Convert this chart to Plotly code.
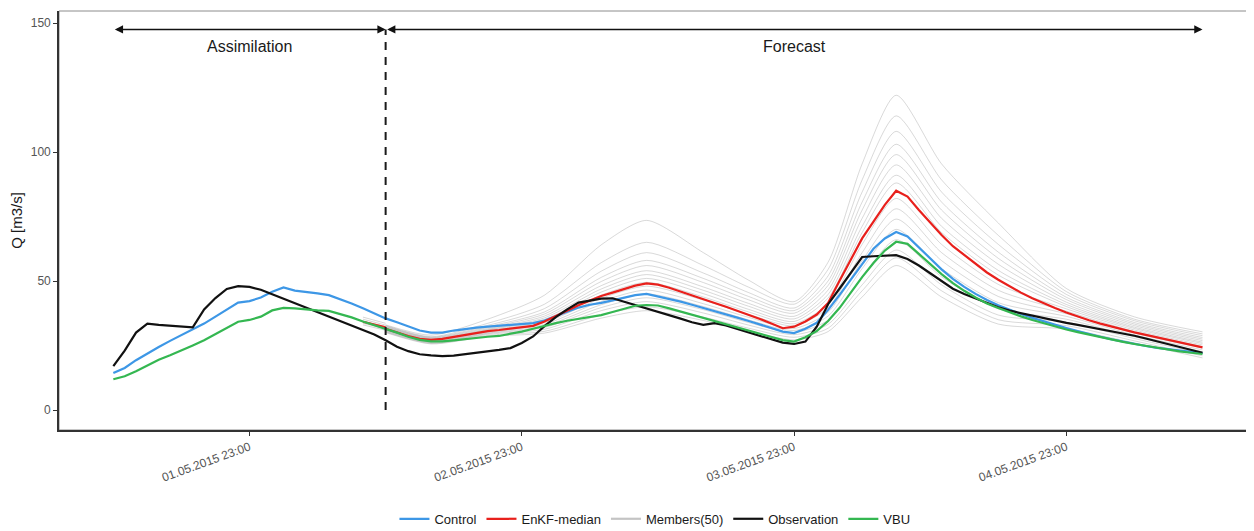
import pandas as pd
import plotly.graph_objects as go

start = pd.Timestamp("2015-05-01 11:00")

# hourly series, t = 0..96 h from 01.05.2015 11:00
observation = [17, 23, 30, 33.5, 33, 32.7, 32.3, 32, 39, 43.4,
               46.9, 48, 47.7, 46.6, 44.9, 43.2, 41.5, 39.8, 38, 36.3,
               34.6, 32.9, 31.1, 29.3, 27, 24.5, 22.8, 21.6, 21.2, 20.9,
               21.1, 21.6, 22.2, 22.8, 23.3, 24, 26, 28.5, 32.5, 36,
               39, 41.6, 42.5, 43.2, 43.3, 42, 40.7, 39.5, 38.2, 36.8,
               35.4, 34, 33, 33.7, 32.8, 31.4, 30.1, 28.8, 27.4, 26.1,
               25.6, 26.5, 32.3, 41, 47, 53, 59.3, 59.6, 59.8, 60,
               58.5, 56, 53, 50, 47, 45, 43.2, 41.5, 39.8, 38.5,
               37.5, 36.5, 35.6, 34.7, 33.8, 33, 32.2, 31.4, 30.6, 29.8,
               28.8, 27.7, 26.6, 25.5, 24.3, 23.2, 22.2]

control = [14.3, 16.3, 19.3, 22, 24.4, 26.8, 29, 31.3, 33.5, 36.2,
           39, 41.6, 42.2, 43.6, 45.8, 47.5, 46.3, 45.8, 45.2, 44.5,
           43, 41.3, 39.4, 37.5, 35.5, 34, 32.3, 30.8, 30, 30,
           30.8, 31.4, 31.9, 32.3, 32.6, 33, 33.3, 33.7, 34.7, 36.3,
           38, 39.7, 40.8, 41.5, 42.5, 43.5, 44.5, 45, 44, 43.2,
           42, 40.8, 39.6, 38.4, 37.1, 35.8, 34.5, 33.2, 31.9, 30.4,
           29.8, 31.5, 33.8, 38.8, 44.5, 50.5, 56.8, 62.5, 66.5, 69,
           67.3, 63, 58.5, 54.5, 50.8, 47.7, 45, 42.6, 40.6, 38.8,
           37.2, 35.7, 34.3, 33, 31.8, 30.6, 29.4, 28.4, 27.4, 26.5,
           25.5, 24.8, 24.1, 23.5, 22.9, 22.5, 22.1]

vbu = [11.9, 13.1, 15, 17.2, 19.5, 21.2, 23, 25, 27, 29.3,
       31.8, 34.2, 34.9, 36.2, 38.6, 39.6, 39.4, 38.9, 38.6, 38.4,
       37.3, 35.9, 34.3, 32.9, 31.7, 30, 28.4, 27.2, 26.6, 26.6,
       27, 27.5, 28, 28.4, 28.7, 29.5, 30.4, 31.5, 32.7, 33.7,
       34.6, 35.4, 36.1, 36.8, 38, 39.3, 40.4, 40.7, 40.5, 39.4,
       38.2, 37, 35.8, 34.6, 33.4, 32.2, 31, 29.7, 28.4, 27.1,
       26.5, 28.2, 30.6, 34.5, 39.5, 45.5, 51.5, 57, 61.8, 65.2,
       64.4, 60.5, 56.5, 52.7, 49.2, 46.2, 43.6, 41.3, 39.5, 37.8,
       36.3, 34.9, 33.6, 32.3, 31.2, 30.2, 29.2, 28.2, 27.3, 26.4,
       25.6, 24.8, 24.1, 23.4, 22.7, 22.2, 21.7]

# EnKF median: short piece at the end of assimilation (t=22..24) and forecast (t=24..96)
enkf_assim_hours = [22, 23, 24]
enkf_assim = [34.2, 33.1, 32.0]
enkf_forecast = [31.5, 30, 28.7, 27.6, 27.2, 27.6, 28.3, 29, 29.8, 30.6,
                 31, 31.5, 32, 32.6, 34.3, 36.4, 38.6, 40.6, 42.4, 44.2,
                 45.5, 46.8, 48.2, 49.1, 48.6, 47.4, 46, 44.5, 43, 41.5,
                 40, 38.5, 37, 35.3, 33.5, 31.7, 32.3, 34.3, 37, 41.5,
                 50, 58.5, 66.5, 73, 79.5, 85, 82.7, 77.5, 72.5, 67.8,
                 63.5, 60, 56.5, 53.3, 50.5, 47.9, 45.5, 43.3, 41.3, 39.5,
                 37.8, 36.2, 34.8, 33.5, 32.3, 31.2, 30.1, 29.1, 28.1, 27.1,
                 26.1, 25.2, 24.3]

# ensemble members (read at key hours)
member_hours = [24, 28, 33, 38, 43, 47, 52, 56, 60, 63, 66, 69, 73, 78, 84, 90, 96]
members = [
    [33.0, 29.0, 35.2, 44.5, 64.0, 73.5, 61.0, 50.3, 42.0, 57.3, 95.4, 122, 95.4, 72.5, 47.1, 36.1, 30.3],
    [32.8, 28.4, 33.6, 41.0, 57.1, 65.0, 56.0, 47.6, 41.0, 54.5, 89.2, 114, 89.2, 67.7, 45.9, 35.2, 29.5],
    [32.6, 28.2, 32.8, 39.3, 53.8, 61.0, 53.1, 45.5, 39.5, 52.0, 84.5, 108, 84.5, 64.2, 44.8, 34.6, 28.8],
    [32.4, 28.0, 32.3, 38.0, 51.4, 58.0, 51.0, 44.0, 38.5, 50.0, 80.6, 103, 80.6, 61.2, 43.7, 33.9, 28.1],
    [32.2, 27.8, 31.9, 37.2, 49.8, 56.0, 49.4, 42.7, 37.5, 48.3, 77.5, 99, 77.5, 58.8, 42.8, 33.3, 27.5],
    [32.0, 27.6, 31.5, 36.4, 48.2, 54.0, 47.7, 41.3, 36.3, 46.5, 74.3, 95, 74.3, 56.5, 41.8, 32.7, 26.9],
    [31.8, 27.4, 31.2, 35.7, 46.9, 52.5, 46.4, 40.2, 35.3, 44.8, 71.2, 91, 71.2, 54.1, 40.9, 32.1, 26.3],
    [31.6, 27.2, 31.0, 35.1, 45.7, 51.0, 45.1, 39.0, 34.3, 43.4, 68.8, 88, 68.8, 52.3, 40.1, 31.6, 25.8],
    [31.4, 27.0, 30.7, 34.5, 44.5, 49.5, 43.8, 38.0, 33.4, 41.2, 64.2, 82, 64.2, 48.7, 39.2, 31.0, 25.2],
    [31.2, 26.8, 30.4, 33.9, 43.3, 48.0, 42.6, 37.0, 32.6, 39.6, 61.0, 78, 61.0, 46.4, 38.3, 30.4, 24.6],
    [31.0, 26.6, 30.1, 33.2, 42.1, 46.5, 41.2, 35.9, 31.6, 37.9, 57.9, 74, 57.9, 44.0, 37.3, 29.8, 24.0],
    [30.8, 26.4, 29.8, 32.6, 40.8, 45.0, 40.1, 34.9, 30.8, 36.4, 54.8, 70, 54.8, 41.6, 36.3, 29.1, 23.3],
    [30.6, 26.2, 29.6, 32.0, 39.7, 43.5, 38.9, 33.9, 30.0, 34.8, 51.6, 66, 51.6, 39.2, 35.2, 28.4, 22.6],
    [30.4, 26.0, 29.3, 31.3, 38.5, 42.0, 37.6, 32.9, 29.2, 33.2, 48.5, 62, 48.5, 36.8, 34.1, 27.7, 21.9],
    [30.2, 25.8, 28.9, 30.5, 36.9, 40.0, 36.0, 31.7, 28.2, 31.7, 46.2, 59, 46.2, 35.0, 32.7, 26.8, 21.0],
    [30.0, 25.6, 28.6, 29.8, 35.6, 38.5, 34.7, 30.5, 27.2, 30.4, 43.8, 56, 43.8, 33.3, 31.4, 26.0, 20.2],
]
members_assim = [
    [36.0, 34.8, 33.6],
    [35.2, 34.0, 32.9],
    [34.5, 33.4, 32.3],
    [33.6, 32.5, 31.5],
    [33.0, 31.9, 30.9],
]

tick_labels = ["01.05.2015 23:00", "02.05.2015 23:00", "03.05.2015 23:00", "04.05.2015 23:00"]
tick_hours = [12, 36, 60, 84]
phase_labels = ["Assimilation", "Forecast"]
phase_bounds = [(0, 24), (24, 96)]
arrow_level = 147.5
label_level = 141

def t(h):
    return start + pd.Timedelta(hours=h)

hours_all = list(range(len(observation)))
x_all = [t(h) for h in hours_all]
x_fc = [t(h) for h in range(24, 24 + len(enkf_forecast))]

C_BLUE = "#3d97e6"
C_RED = "#e8201c"
C_GREY = "#c4c4c4"
C_BLACK = "#111111"
C_GREEN = "#34b751"

fig = go.Figure()

# members
for row in members:
    fig.add_trace(go.Scatter(x=[t(h) for h in member_hours], y=row, mode="lines",
                             line=dict(color="rgba(160,160,160,0.5)", width=0.8,
                                       shape="spline", smoothing=0.7),
                             showlegend=False, hoverinfo="skip"))
for row in members_assim:
    fig.add_trace(go.Scatter(x=[t(h) for h in enkf_assim_hours], y=row, mode="lines",
                             line=dict(color="rgba(160,160,160,0.55)", width=0.8),
                             showlegend=False, hoverinfo="skip"))

fig.add_trace(go.Scatter(x=x_all, y=control, mode="lines", name="Control",
                         line=dict(color=C_BLUE, width=2.2)))
fig.add_trace(go.Scatter(x=x_fc, y=enkf_forecast, mode="lines", name="EnKF-median",
                         legendgroup="enkf", line=dict(color=C_RED, width=2.2)))
fig.add_trace(go.Scatter(x=[t(h) for h in enkf_assim_hours], y=enkf_assim, mode="lines",
                         legendgroup="enkf", showlegend=False, line=dict(color=C_RED, width=2.2)))
# legend entry for members
fig.add_trace(go.Scatter(x=[None], y=[None], mode="lines", name="Members(50)",
                         line=dict(color=C_GREY, width=2.2)))
fig.add_trace(go.Scatter(x=x_all, y=observation, mode="lines", name="Observation",
                         line=dict(color=C_BLACK, width=2.2)))
fig.add_trace(go.Scatter(x=x_all, y=vbu, mode="lines", name="VBU",
                         line=dict(color=C_GREEN, width=2.2)))

# dashed separator
fig.add_trace(go.Scatter(x=[t(24), t(24)], y=[0, arrow_level], mode="lines", showlegend=False,
                         hoverinfo="skip", line=dict(color="#1a1a1a", width=2, dash="8px,7px")))

annotations = []
for (a, b), lab in zip(phase_bounds, phase_labels):
    annotations.append(dict(x=t(b), y=arrow_level, ax=t(a), ay=arrow_level,
                            xref="x", yref="y", axref="x", ayref="y", text="",
                            showarrow=True, arrowhead=2, startarrowhead=2, arrowside="end+start",
                            arrowsize=1.1, startarrowsize=1.1, arrowwidth=1.5, arrowcolor="#111111",
                            standoff=0, startstandoff=0))
    annotations.append(dict(x=t((a + b) / 2), y=label_level, xref="x", yref="y", text=lab,
                            showarrow=False, font=dict(size=16, color="#1a1a1a")))

# the page body adds an 8 px offset, so the figure is 8 px smaller and margins are shifted
fig.update_layout(
    width=1246, height=523,
    margin=dict(l=51, r=0, t=3, b=101, autoexpand=False),
    paper_bgcolor="white", plot_bgcolor="white",
    font=dict(family="Liberation Sans, Arial, sans-serif"),
    annotations=annotations,
    showlegend=True,
    legend=dict(orientation="h", x=0.4987, xanchor="center", y=-0.212, yanchor="middle",
                font=dict(size=13, color="#1a1a1a"), itemwidth=30, tracegroupgap=0),
    shapes=[dict(type="rect", xref="paper", yref="paper", x0=0, x1=1, y0=0, y1=1,
                 line=dict(color="#8c8c8c", width=1), layer="below")],
)

fig.update_xaxes(type="date", range=[t(-4.79), t(100.54)], automargin=False,
                 tickvals=[t(h) for h in tick_hours], ticktext=tick_labels,
                 tickangle=-20, tickfont=dict(size=12, color="#555555"),
                 ticks="outside", ticklen=4, tickcolor="#333333",
                 showline=True, linecolor="#333333", linewidth=1.6,
                 showgrid=False, zeroline=False)
fig.update_yaxes(range=[-7.75, 154.65], tickvals=[0, 50, 100, 150], automargin=False,
                 tickfont=dict(size=12, color="#555555"),
                 ticks="outside", ticklen=4, tickcolor="#333333",
                 showline=True, linecolor="#333333", linewidth=1.6,
                 showgrid=False, zeroline=False,
                 title=dict(text="Q [m3/s]", font=dict(size=15, color="#1a1a1a"), standoff=12))

fig.write_html("out.html")
